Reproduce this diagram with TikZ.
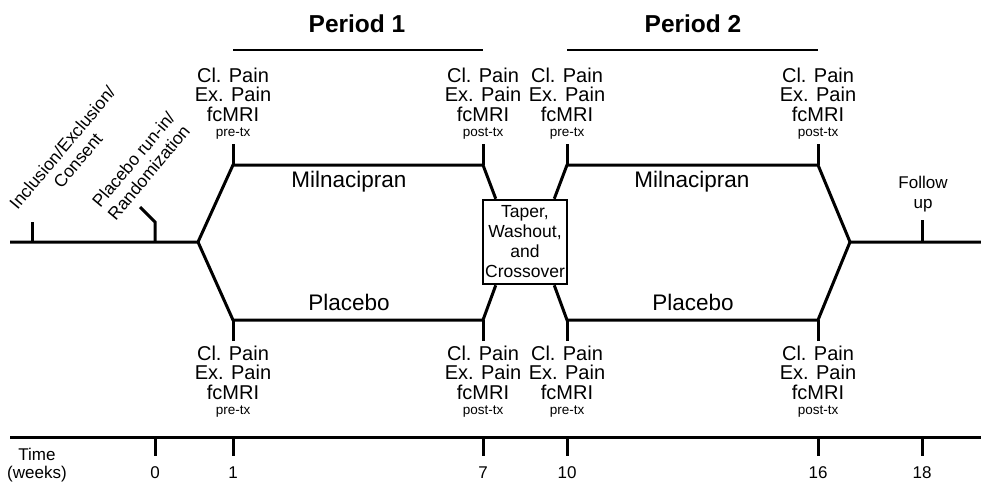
\documentclass[tikz,border=0pt]{standalone}
\usepackage{fontspec}
\setmainfont{Liberation Sans}
\newcommand\measblock[4]{%
  \node[lbl] (#1a) at (#2,#3) {Cl. Pain};
  \node[lbl] (#1b) at (#2,#3+19.5) {Ex. Pain};
  \node[lbl] (#1c) at (#2,#3+39) {fcMRI};
  \node[sml] (#1d) at (#2,#3+54) {#4};
}
\begin{document}
\begin{tikzpicture}[x=1pt,y=-1pt,
  ln/.style={line width=3pt},
  bar/.style={line width=2.5pt},
  lbl/.style={inner sep=0pt,anchor=base,font=\fontsize{20}{20}\selectfont},
  sml/.style={inner sep=0pt,anchor=base,font=\fontsize{13.5}{14}\selectfont},
  arm/.style={inner sep=0pt,anchor=base,font=\fontsize{22.5}{23}\selectfont},
  per/.style={inner sep=0pt,anchor=base,font=\fontsize{24.5}{25}\selectfont\bfseries},
  rot/.style={inner sep=0pt,align=center,rotate=50,font=\fontsize{17.5}{20}\selectfont},
  tim/.style={inner sep=0pt,anchor=base,font=\fontsize{17}{18}\selectfont},
  boxst/.style={draw,line width=2.5pt,minimum width=84pt,minimum height=84pt,inner sep=0pt,align=center,font=\fontsize{17.5}{20}\selectfont}
]
\path[use as bounding box] (0,0) rectangle (981,488);

% period headers
\node[per] (p1) at (357,32) {Period 1};
\node[per] (p2) at (693,32) {Period 2};
\coordinate (p1l) at (233,50); \coordinate (p1r) at (483,50);
\coordinate (p2l) at (567,50); \coordinate (p2r) at (818,50);
\draw[bar] (p1l) -- (p1r);
\draw[bar] (p2l) -- (p2r);

% main flow coordinates
\coordinate (L0) at (10,242);
\coordinate (B1) at (198,242);
\coordinate (U1) at (233,165);
\coordinate (D1) at (233,320);
\coordinate (U1e) at (483,165);
\coordinate (D1e) at (483,320);
\coordinate (U2) at (567,165);
\coordinate (D2) at (567,320);
\coordinate (U2e) at (818,165);
\coordinate (D2e) at (818,320);
\coordinate (B2) at (850,242);
\coordinate (R0) at (981,242);

\node[boxst] (box) at (525,242) {Taper,\\Washout,\\and\\Crossover};
\coordinate (bTL) at ([xshift=14pt]box.north west);
\coordinate (bTR) at ([xshift=-14pt]box.north east);
\coordinate (bBL) at ([xshift=14pt]box.south west);
\coordinate (bBR) at ([xshift=-14pt]box.south east);

\draw[ln] (L0) -- (B1) -- (U1) -- (U1e) -- (bTL);
\draw[ln] (B1) -- (D1) -- (D1e) -- (bBL);
\draw[ln] (bTR) -- (U2) -- (U2e) -- (B2) -- (R0);
\draw[ln] (bBR) -- (D2) -- (D2e) -- (B2);

% arm labels
\node[arm] (m1) at (349,187) {Milnacipran};
\node[arm] (m2) at (692,187) {Milnacipran};
\node[arm] (pl1) at (349,310) {Placebo};
\node[arm] (pl2) at (693,310) {Placebo};

% measurement blocks
\measblock{ta}{233}{82}{pre-tx}
\measblock{tb}{483}{82}{post-tx}
\measblock{tc}{567}{82}{pre-tx}
\measblock{td}{818}{82}{post-tx}
\measblock{ba}{233}{360}{pre-tx}
\measblock{bb}{483}{360}{post-tx}
\measblock{bc}{567}{360}{pre-tx}
\measblock{bd}{818}{360}{post-tx}

\coordinate (kta) at (233,144); \coordinate (ktb) at (483,144);
\coordinate (ktc) at (567,144); \coordinate (ktd) at (818,144);
\coordinate (kba) at (233,341); \coordinate (kbb) at (483,341);
\coordinate (kbc) at (567,341); \coordinate (kbd) at (818,341);
\draw[ln] (kta) -- (U1);  \draw[ln] (ktb) -- (U1e);
\draw[ln] (ktc) -- (U2);  \draw[ln] (ktd) -- (U2e);
\draw[ln] (kba) -- (D1);  \draw[ln] (kbb) -- (D1e);
\draw[ln] (kbc) -- (D2);  \draw[ln] (kbd) -- (D2e);

% left labels and ticks
\node[rot] (incl) at (70,154) {Inclusion/Exclusion/\\Consent};
\node[rot] (plac) at (141,166) {Placebo run-in/\\Randomization};
\coordinate (c0) at (32,242); \coordinate (c1) at (32,222);
\coordinate (r0) at (155,242); \coordinate (r1) at (155,222); \coordinate (r2) at (140,207);
\draw[ln] (c0) -- (c1);
\draw[ln] (r0) -- (r1) -- (r2);

% follow up
\node[tim] (fu1) at (923,188) {Follow};
\node[tim] (fu2) at (923,208) {up};
\coordinate (f0) at (922,242); \coordinate (f1) at (922,220);
\draw[ln] (f0) -- (f1);

% time axis
\coordinate (a0) at (10,437); \coordinate (a1) at (981,437);
\draw[ln] (a0) -- (a1);
\node[tim] (tt1) at (37,460) {Time};
\node[tim] (tt2) at (37,478) {(weeks)};
\foreach \xx/\lab [count=\i] in {155/0,233/1,483/7,567/10,818/16,922/18}{
  \coordinate (tk\i) at (\xx,437);
  \coordinate (tke\i) at (\xx,456);
  \draw[ln] (tk\i) -- (tke\i);
  \node[tim] (num\i) at (\xx,478) {\lab};
}
\end{tikzpicture}
\end{document}
